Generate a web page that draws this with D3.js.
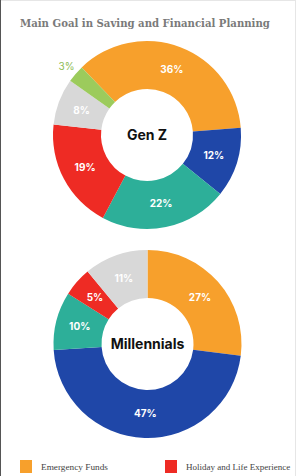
<!DOCTYPE html>
<html>
<head>
<meta charset="utf-8">
<script src="https://cdn.jsdelivr.net/npm/d3@7"></script>
<style>
  body { margin: 0; background: #fff; }
  svg { display: block; }
</style>
</head>
<body>
<div id="chart"></div>
<script>
const categories = ['Emergency Funds', 'Investments', 'Education', 'Holiday and Life Experience', 'Other', 'Retirement'];
const colors = ['#F7A02C', '#1F47A8', '#2DAF99', '#EE2B24', '#D8D8D8', '#9CCB5C'];
const genZ = [36, 12, 22, 19, 8, 3];
const millennials = [27, 47, 10, 5, 11, 0];
const legendItems = ['Emergency Funds', 'Holiday and Life Experience'];

const width = 300, height = 476;
const svg = d3.select('#chart').append('svg')
  .attr('width', width).attr('height', height);

// shrink a text node until it fits the width seen in the reference
function fitText(sel, maxW, start) {
  let fs = start;
  sel.attr('font-size', fs + 'px');
  while (sel.node().getComputedTextLength() > maxW && fs > 7) {
    fs -= 0.25;
    sel.attr('font-size', fs + 'px');
  }
}

// frame
svg.append('rect').attr('x', 0.5).attr('y', 0.5)
  .attr('width', width - 5).attr('height', height)
  .attr('fill', '#fff').attr('stroke', '#e6e6e6');
svg.append('line').attr('x1', 0.5).attr('x2', 0.5).attr('y1', 0).attr('y2', height)
  .attr('stroke', '#555');

const title = svg.append('text')
  .attr('x', 20).attr('y', 27)
  .attr('font-family', '"DejaVu Serif Condensed", "DejaVu Serif", serif')
  .attr('font-weight', 'bold')
  .attr('fill', '#7a7a7a')
  .text('Main Goal in Saving and Financial Planning');
fitText(title, 254, 13);

const outerR = 94, innerR = 46;
const arc = d3.arc().innerRadius(innerR).outerRadius(outerR);
const labelArc = d3.arc().innerRadius(70).outerRadius(70);
const outsideArc = d3.arc().innerRadius(106).outerRadius(106);

function donut(values, cx, cy, startDeg, name) {
  const pie = d3.pie().sort(null).value(d => d)
    .startAngle(startDeg * Math.PI / 180)
    .endAngle((startDeg + 360) * Math.PI / 180);
  const arcs = pie(values).map((a, i) => ({ ...a, i }))
    .filter(a => a.value > 0);
  const g = svg.append('g').attr('transform', `translate(${cx},${cy})`);
  g.selectAll('path').data(arcs).enter().append('path')
    .attr('d', arc)
    .attr('fill', d => colors[d.i]);
  // tiny slices get their label outside the ring, in the slice colour
  g.selectAll('text.lbl').data(arcs).enter().append('text')
    .attr('class', 'lbl')
    .attr('transform', d => `translate(${(d.value < 5 ? outsideArc : labelArc).centroid(d)})`)
    .attr('text-anchor', 'middle')
    .attr('dy', '0.35em')
    .attr('font-family', 'Inter, sans-serif')
    .attr('font-weight', d => d.value < 5 ? 'normal' : 'bold')
    .attr('font-size', '10px')
    .attr('fill', d => d.value < 5 ? '#8DBB55' : '#fff')
    .text(d => d.value + '%');
  g.append('text')
    .attr('text-anchor', 'middle')
    .attr('dy', '0.35em')
    .attr('font-family', 'Inter, sans-serif')
    .attr('font-weight', 'bold')
    .attr('font-size', '14px')
    .attr('fill', '#111')
    .text(name);
}

donut(genZ, 147, 135, -44, 'Gen Z');
donut(millennials, 147.5, 344, 0, 'Millennials');

const legend = svg.append('g');
const legendX = [20, 165], legendW = [68, 106];
legendItems.forEach((name, k) => {
  const x = legendX[k];
  legend.append('rect').attr('x', x).attr('y', 460)
    .attr('width', 12).attr('height', 13)
    .attr('fill', colors[categories.indexOf(name)]);
  const t = legend.append('text').attr('x', x + 21).attr('y', 470)
    .attr('font-family', '"Liberation Serif", serif')
    .attr('fill', '#444')
    .text(name);
  fitText(t, legendW[k], 10);
});
</script>
</body>
</html>
